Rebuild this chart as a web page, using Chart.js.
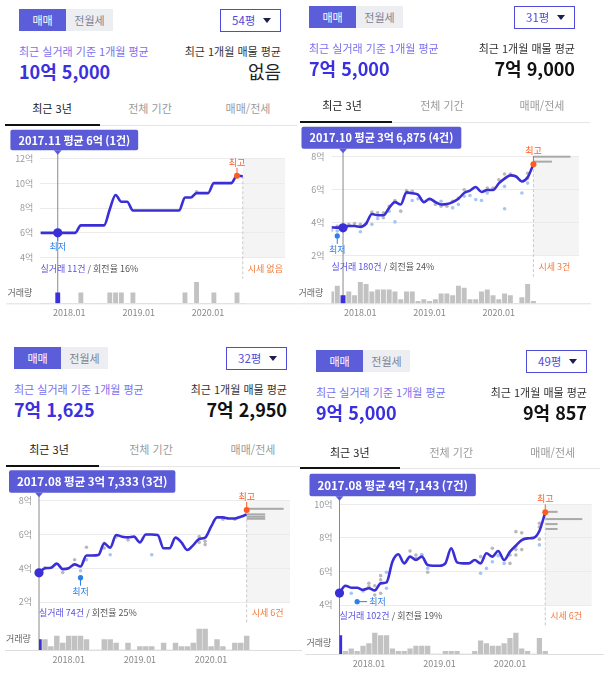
<!DOCTYPE html>
<html lang="ko">
<head>
<meta charset="utf-8">
<script src="https://cdn.jsdelivr.net/npm/chart.js@4.4.1/dist/chart.umd.min.js"></script>
<style>
  body { margin: 0; width: 605px; height: 676px; position: relative; overflow: hidden; background: #fff;
         font-family: "Noto Sans CJK KR", "Noto Sans", sans-serif; }
  .abs { position: absolute; white-space: nowrap; }
  .tg { display: flex; height: 22px; }
  .tg span { width: 47px; text-align: center; line-height: 22px; font-size: 11px; background: #eceef2; color: #7c8190; }
  .tg span.on { background: #5b5ed8; color: #fff; }
  .dd { box-sizing: border-box; width: 61px; height: 23px; border: 1.5px solid #4f4bd9; color: #4f4bd9;
        font-size: 11.5px; line-height: 20px; padding-left: 11px; }
  .dd i { position: absolute; right: 9px; top: 8px; border-left: 4px solid transparent;
          border-right: 4px solid transparent; border-top: 5px solid #1d1f4a; }
  .lbl { font-size: 11px; line-height: 16px; }
  .val { font-size: 18px; line-height: 24px; font-weight: bold; }
  .tab { font-size: 11px; line-height: 18px; text-align: center; color: #9a9a9a; }
  canvas { position: absolute; }
</style>
</head>
<body>
<script>
// month index: 0 = 2017.08 ... 35 = 2020.07
const xTickMonths = [5, 17, 29];
const xTickLabels = ['2018.01', '2019.01', '2020.01'];
const tabNames = ['최근 3년', '전체 기간', '매매/전세'];

const pyeong = ['54평', '31평', '32평', '49평'];
const realAvg = ['10억 5,000', '7억 5,000', '7억 1,625', '9억 5,000'];
const listAvg = ['없음', '7억 9,000', '7억 2,950', '9억 857'];
const tradeCounts = [11, 180, 74, 102];
const turnover = [16, 24, 25, 19];
const listingCounts = [0, 3, 6, 6];
const selectedMonth = [3, 2, 0, 0];
const tooltipText = ['2017.11 평균 6억 (1건)', '2017.10 평균 3억 6,875 (4건)',
                     '2017.08 평균 3억 7,333 (3건)', '2017.08 평균 4억 7,143 (7건)'];
const yTicks = [[4, 6, 8, 10, 12], [2, 4, 6, 8], [2, 4, 6, 8], [4, 6, 8, 10]];

// monthly average price (억)
const trend1 = [6.0, 6.0, 6.0, 6.0, 6.0, 6.0, 6.0, 6.6, 6.6, 6.6, 6.6, 6.6, 7.9, 9.05, 8.5, 8.5, 7.8, 7.8,
                7.8, 7.8, 7.8, 7.8, 7.8, 7.8, 7.8, 8.85, 8.85, 9.2, 9.2, 9.2, 10.0, 10.0, 10.0, 10.0, 10.6, 10.55];
const trend2 = [3.72, 3.70, 3.69, 3.80, 3.80, 3.75, 3.95, 4.53, 4.45, 4.45, 4.90, 5.25, 5.10, 5.84, 5.78, 5.70, 5.25, 5.45,
                5.25, 5.10, 5.13, 5.25, 5.45, 5.80, 5.94, 6.16, 5.86, 5.98, 5.98, 6.38, 6.67, 6.87, 6.80, 6.50, 6.75, 7.55];
const trend3 = [3.73, 4.0, 4.03, 4.27, 3.95, 4.0, 4.23, 4.1, 4.75, 4.75, 4.78, 5.47, 5.22, 5.97, 5.87, 5.83, 5.87, 5.53,
                6.0, 6.0, 5.97, 5.18, 5.18, 5.81, 5.53, 5.08, 5.37, 5.73, 5.81, 6.46, 7.01, 7.01, 6.95, 6.95, 7.05, 7.19];
const trend4 = [4.71, 5.15, 5.03, 5.03, 4.9, 5.0, 4.87, 5.29, 5.35, 6.58, 7.02, 6.48, 6.88, 6.68, 6.88, 6.38, 6.34, 6.34,
                6.48, 7.38, 6.54, 6.48, 6.48, 6.68, 6.48, 7.08, 6.88, 7.22, 6.68, 7.18, 7.54, 7.87, 7.97, 8.0, 8.41, 9.52];

// monthly trade counts
const volume1 = [0, 0, 0, 1, 0, 0, 0, 1, 0, 0, 0, 0, 1, 1, 1, 0, 1, 0, 0, 0, 0, 0, 0, 0, 0, 1, 0, 2, 0, 0, 1, 0, 0, 0, 1, 0];
const volume2 = [6, 9, 4, 6, 4, 11, 10, 6, 7, 7, 7, 6, 2, 6, 6, 1, 2, 1, 2, 5, 5, 4, 9, 8, 2, 2, 6, 7, 4, 2, 5, 4, 0, 3, 10, 1];
const volume3 = [3, 3, 1, 4, 2, 4, 4, 4, 3, 0, 0, 3, 3, 2, 0, 2, 0, 1, 1, 1, 0, 2, 0, 2, 1, 1, 2, 6, 6, 1, 3, 1, 0, 2, 2, 4];
const volume4 = [7, 1, 2, 1, 3, 4, 8, 7, 7, 2, 1, 1, 2, 3, 3, 3, 0, 0, 1, 1, 1, 0, 0, 1, 5, 4, 3, 3, 4, 6, 8, 2, 1, 0, 6, 1];

// single trades [month, price]
const greyDots1 = [[27, 9.3]];
const blueDots1 = [];
const greyDots2 = [[1, 3.78], [3, 3.9], [4, 3.95], [5, 3.9], [7, 4.65], [8, 4.6], [9, 4.6], [9, 4.3], [10, 5.0], [11, 5.35],
                   [12, 4.7], [13, 5.95], [13, 5.8], [14, 5.9], [17, 5.4], [18, 5.1], [19, 5.0], [20, 5.0], [21, 5.3],
                   [22, 5.5], [23, 6.0], [27, 6.1], [28, 6.1], [29, 6.6], [30, 6.95], [31, 6.95], [34, 6.7], [34, 7.0]];
const blueDots2 = [[0, 3.55], [1, 3.5], [5, 3.45], [6, 3.95], [7, 3.9], [8, 4.25], [10, 4.7], [11, 4.05], [14, 5.35],
                   [15, 5.45], [19, 5.3], [21, 4.9], [22, 5.1], [23, 5.6], [24, 5.65], [25, 5.4], [26, 5.35], [27, 5.8],
                   [30, 6.2], [30, 4.85], [33, 5.8], [34, 6.4]];
const greyDots3 = [[1, 4.03], [4, 3.75], [6, 4.5], [8, 5.24], [11, 5.47], [11, 5.2], [13, 5.85], [15, 5.67], [27, 5.87],
                   [27, 5.53], [28, 5.4], [28, 5.6], [31, 6.9], [33, 6.9]];
const blueDots3 = [[7, 3.85], [8, 4.5], [12, 4.8], [19, 4.8]];
const greyDots4 = [[5, 5.3], [5, 5.1], [6, 4.6], [6, 5.15], [7, 5.75], [7, 5.5], [7, 4.7], [12, 7.22], [13, 6.98], [13, 6.78],
                   [14, 6.98], [15, 5.95], [24, 6.88], [26, 7.38], [29, 6.48], [29, 6.98], [30, 7.5], [30, 7.3], [30, 6.98],
                   [30, 8.37], [31, 7.3], [31, 8.3], [34, 7.92], [34, 8.87], [34, 8.65]];
const blueDots4 = [[2, 4.7], [4, 4.83], [8, 5.95], [8, 5.0], [14, 7.0], [15, 6.18], [24, 5.89], [25, 6.18], [26, 6.58],
                   [27, 6.94], [28, 6.48], [34, 7.58]];

const highPoint = [[34, 10.6], [35, 7.55], [35, 7.45], [35, 9.52]];
const lowPoint = [[3, 6.0], [1, 3.2], [7, 3.44], [3, 4.2]];
// current listings (매물) price and count
const listPrice = [[], [8.0, 7.7], [7.52, 7.19, 7.05, 6.93], [9.55, 9.12, 8.82, 8.53]];
const listCount = [[], [2, 1], [2, 1, 1, 1], [1, 3, 1, 1]];

const trends = [trend1, trend2, trend3, trend4];
const volumes = [volume1, volume2, volume3, volume4];
const greyDots = [greyDots1, greyDots2, greyDots3, greyDots4];
const blueDots = [blueDots1, blueDots2, blueDots3, blueDots4];

// layout of each screenshot panel
const headPos = [{ x: 19, r: 281, y: 9 }, { x: 309, r: 575, y: 6 }, { x: 14, r: 287, y: 347 }, { x: 316, r: 587, y: 350 }];
const tabPos = [
  { x0: 3, w: 98, ty: 108, uy: 125, ul: [5, 100], end: 297 },
  { x0: 292, w: 100, ty: 105, uy: 122, ul: [300, 392], end: 590 },
  { x0: -2, w: 102, ty: 449, uy: 466, ul: [6, 99], end: 300 },
  { x0: 299, w: 101.5, ty: 452, uy: 468, ul: [300, 400], end: 600 },
];
const boxes = [
  { L: 40.4, R: 285, PT: 158.3, PB: 257.7, VB: 303.3, xMax: 42.3, tipH: 20.5, tipF: 11, bar: 4.2 },
  { L: 331.5, R: 579, PT: 156.7, PB: 255.7, VB: 303.3, xMax: 42.9, tipH: 22, tipF: 11, bar: 4.3 },
  { L: 39, R: 290, PT: 500.7, PB: 602, VB: 650, xMax: 42.3, tipH: 22.5, tipF: 11.5, bar: 4.8 },
  { L: 339.5, R: 591.7, PT: 504.3, PB: 605, VB: 654, xMax: 42.9, tipH: 22.5, tipF: 11.5, bar: 4.6 },
];
const lowLabelSide = ['down', 'down', 'down', 'right'];
const LAST = 35;
const FONT = '"Noto Sans CJK KR", sans-serif';
Chart.defaults.font.family = FONT;

function el(html) { document.body.insertAdjacentHTML('beforeend', html); }

function header(i) {
  const h = headPos[i], t = tabPos[i];
  el(`<div class="abs tg" style="left:${h.x}px;top:${h.y}px"><span class="on">매매</span><span>전월세</span></div>`);
  el(`<div class="abs dd" style="left:${h.r - 61}px;top:${h.y}px">${pyeong[i]}<i></i></div>`);
  el(`<div class="abs lbl" style="left:${h.x}px;top:${h.y + 34}px;color:#7b6ff0">최근 실거래 기준 1개월 평균</div>`);
  el(`<div class="abs lbl" style="left:${h.r - 200}px;width:200px;text-align:right;top:${h.y + 34}px;color:#333">최근 1개월 매물 평균</div>`);
  el(`<div class="abs val" style="left:${h.x}px;top:${h.y + 50}px;color:#3b30e0">${realAvg[i]}</div>`);
  const none = listingCounts[i] === 0;
  el(`<div class="abs val" style="left:${h.r - 200}px;width:200px;text-align:right;top:${h.y + 50}px;` +
     `${none ? 'font-weight:normal;color:#222' : 'color:#111'}">${listAvg[i]}</div>`);
  tabNames.forEach((s, k) => el(`<div class="abs tab" style="left:${t.x0 + k * t.w}px;width:${t.w}px;top:${t.ty - 9}px;` +
     `${k === 0 ? 'color:#222' : ''}">${s}</div>`));
  el(`<div class="abs" style="left:${t.ul[0]}px;top:${t.uy - 1}px;width:${t.ul[1] - t.ul[0]}px;height:2px;background:#111"></div>`);
  el(`<div class="abs" style="left:${t.ul[1]}px;top:${t.uy}px;width:${t.end - t.ul[1]}px;height:1px;background:#e6e6e6"></div>`);
}

const priceDecor = {
  id: 'priceDecor',
  beforeDraw(chart, args, o) {
    const { ctx, chartArea: a, scales: { x, y } } = chart;
    const xe = x.getPixelForValue(LAST);
    const yt = y.getPixelForValue(o.pMax), yb = y.getPixelForValue(o.pMin);
    ctx.save();
    ctx.fillStyle = '#f4f4f4';
    ctx.fillRect(xe, yt, a.right - xe, yb - yt);
    ctx.restore();
  },
  beforeDatasetsDraw(chart, args, o) {
    const { ctx, chartArea: a, scales: { x, y } } = chart;
    const xe = x.getPixelForValue(LAST);
    const yb = y.getPixelForValue(o.pMin);
    ctx.save();
    // listings
    const maxC = Math.max(1, ...o.listCount);
    ctx.fillStyle = '#a9a9a9';
    o.listPrice.forEach((p, k) => {
      ctx.fillRect(xe, y.getPixelForValue(p) - 1, 37 * o.listCount[k] / maxC, 2);
    });
    // dashed end line
    ctx.strokeStyle = '#c9c9c9';
    ctx.lineWidth = 1;
    ctx.setLineDash([3, 2]);
    ctx.beginPath();
    ctx.moveTo(xe, y.getPixelForValue(o.trend[LAST]));
    ctx.lineTo(xe, yb + 21);
    ctx.stroke();
    ctx.setLineDash([]);
    // cursor
    const xs = x.getPixelForValue(o.sel);
    ctx.strokeStyle = '#8a8a8a';
    ctx.beginPath();
    ctx.moveTo(xs, a.top - 8);
    ctx.lineTo(xs, a.bottom);
    ctx.stroke();
    // baseline
    ctx.strokeStyle = '#dedede';
    ctx.beginPath();
    ctx.moveTo(a.left - 34, a.bottom + 0.5);
    ctx.lineTo(a.right + 12, a.bottom + 0.5);
    ctx.stroke();
    // texts
    ctx.font = '9px ' + FONT;
    ctx.textBaseline = 'middle';
    ctx.textAlign = 'left';
    const t1 = `실거래 ${o.trades}건`;
    ctx.fillStyle = '#5a50e0';
    ctx.fillText(t1, a.left, yb + 10.5);
    ctx.fillStyle = '#555';
    ctx.fillText(` / 회전율 ${o.turn}%`, a.left + ctx.measureText(t1).width, yb + 10.5);
    ctx.fillStyle = '#f47b3e';
    ctx.fillText(o.listings ? `시세 ${o.listings}건` : '시세 없음', xe + 5, yb + 10.5);
    ctx.fillStyle = '#666';
    ctx.fillText('거래량', a.left - 33, a.bottom - 11);
    ctx.restore();
  },
  afterDatasetsDraw(chart, args, o) {
    const { ctx, chartArea: a, scales: { x, y } } = chart;
    ctx.save();
    ctx.font = '9px ' + FONT;
    ctx.textBaseline = 'middle';
    ctx.textAlign = 'center';
    // lowest
    const lx = x.getPixelForValue(o.low[0]), ly = y.getPixelForValue(o.low[1]);
    ctx.strokeStyle = ctx.fillStyle = '#2f7fe6';
    ctx.lineWidth = 1;
    ctx.beginPath();
    if (o.lowSide === 'right') {
      ctx.moveTo(lx, ly); ctx.lineTo(lx + 10, ly); ctx.stroke();
      ctx.textAlign = 'left';
      ctx.fillText('최저', lx + 12, ly);
      ctx.textAlign = 'center';
    } else {
      ctx.moveTo(lx, ly); ctx.lineTo(lx, ly + 8); ctx.stroke();
      ctx.fillText('최저', lx, ly + 13.5);
    }
    ctx.beginPath(); ctx.arc(lx, ly, 2.6, 0, Math.PI * 2); ctx.fill();
    // highest
    const hx = x.getPixelForValue(o.high[0]), hy = y.getPixelForValue(o.high[1]);
    ctx.strokeStyle = ctx.fillStyle = '#ff5a22';
    ctx.beginPath(); ctx.moveTo(hx, hy); ctx.lineTo(hx, hy - 8); ctx.stroke();
    ctx.fillText('최고', hx, hy - 13.5);
    ctx.beginPath(); ctx.arc(hx, hy, 3, 0, Math.PI * 2); ctx.fill();
    // selected point
    const xs = x.getPixelForValue(o.sel);
    ctx.fillStyle = '#3a2fd6';
    ctx.beginPath(); ctx.arc(xs, y.getPixelForValue(o.trend[o.sel]), 4.6, 0, Math.PI * 2); ctx.fill();
    // tooltip box
    ctx.font = `bold ${o.tipF}px ` + FONT;
    const tw = ctx.measureText(o.tip).width + 16;
    const bh = o.tipH;
    const bx = a.left - 30, by = a.top - 8 - bh;
    ctx.fillStyle = '#5b5bd8';
    ctx.beginPath(); ctx.roundRect(bx, by, tw, bh, 2); ctx.fill();
    ctx.beginPath();
    ctx.moveTo(xs - 4, by + bh); ctx.lineTo(xs + 4, by + bh); ctx.lineTo(xs, by + bh + 4.5);
    ctx.closePath(); ctx.fill();
    ctx.fillStyle = '#fff';
    ctx.fillText(o.tip, bx + tw / 2, by + bh / 2 + 0.5);
    ctx.restore();
  },
};

function makeChart(i) {
  const b = boxes[i];
  const vol = volumes[i];
  const ticks = yTicks[i];
  const pMin = ticks[0], pMax = ticks[ticks.length - 1];
  const yMin = pMin - (b.VB - b.PB) / (b.PB - b.PT) * (pMax - pMin);
  const left = Math.round(b.L - 41), top = Math.round(b.PT - 34);
  const w = Math.round(b.R + 15 - left), h = Math.round(b.VB + 20 - top);
  const cv = document.createElement('canvas');
  cv.width = w; cv.height = h;
  cv.style.left = left + 'px'; cv.style.top = top + 'px';
  cv.style.width = w + 'px'; cv.style.height = h + 'px';
  document.body.appendChild(cv);
  const sel = selectedMonth[i];
  const toXY = ([m, v]) => ({ x: m, y: v });

  new Chart(cv, {
    type: 'line',
    data: {
      datasets: [
        { type: 'line', data: trends[i].map((v, m) => ({ x: m, y: v })), yAxisID: 'y', borderColor: '#3a2fd6',
          borderWidth: 2.6, pointRadius: 0, cubicInterpolationMode: 'monotone', order: 1 },
        { type: 'scatter', data: blueDots[i].map(toXY), yAxisID: 'y', backgroundColor: '#a3c6f3',
          pointRadius: 1.8, borderWidth: 0, order: 2 },
        { type: 'scatter', data: greyDots[i].map(toXY), yAxisID: 'y', backgroundColor: '#b9b9b9',
          pointRadius: 1.8, borderWidth: 0, order: 3 },
        { type: 'bar', data: vol.map((v, m) => ({ x: m, y: v })), yAxisID: 'yv',
          backgroundColor: vol.map((v, m) => (m === sel ? '#3b30d9' : '#c2c2c2')),
          barThickness: b.bar, borderWidth: 0, order: 4 },
      ],
    },
    options: {
      responsive: false,
      animation: false,
      events: [],
      layout: { padding: { top: b.PT - top, right: left + w - b.R, left: 0, bottom: 0 } },
      plugins: {
        legend: { display: false },
        tooltip: { enabled: false },
        priceDecor: {
          pMin, pMax, sel, trend: trends[i], tip: tooltipText[i], trades: tradeCounts[i], turn: turnover[i],
          listings: listingCounts[i], listPrice: listPrice[i], listCount: listCount[i],
          high: highPoint[i], low: lowPoint[i], lowSide: lowLabelSide[i], tipH: b.tipH, tipF: b.tipF,
        },
      },
      scales: {
        x: {
          type: 'linear', min: 0, max: b.xMax, offset: false,
          grid: { display: false, drawTicks: false, offset: false }, border: { display: false },
          afterBuildTicks: (s) => { s.ticks = xTickMonths.map((v) => ({ value: v })); },
          ticks: { callback: (v) => xTickLabels[xTickMonths.indexOf(v)], color: '#888', font: { size: 9 },
                   padding: 4, maxRotation: 0, autoSkip: false },
          afterFit: (s) => { s.height = top + h - b.VB; },
        },
        y: {
          position: 'left', min: yMin, max: pMax,
          afterBuildTicks: (s) => { s.ticks = ticks.map((v) => ({ value: v })); },
          ticks: { callback: (v) => v + '억', color: '#999', font: { size: 9 }, padding: 7 },
          grid: { color: '#ebebeb', drawTicks: false }, border: { display: false },
          afterFit: (s) => { s.width = b.L - left; },
        },
        yv: { display: false, min: 0, max: Math.max(...vol) * (b.VB - b.PT) / 21 },
      },
    },
    plugins: [priceDecor],
  });
}

for (let i = 0; i < 4; i++) {
  header(i);
  makeChart(i);
}
</script>
</body>
</html>
